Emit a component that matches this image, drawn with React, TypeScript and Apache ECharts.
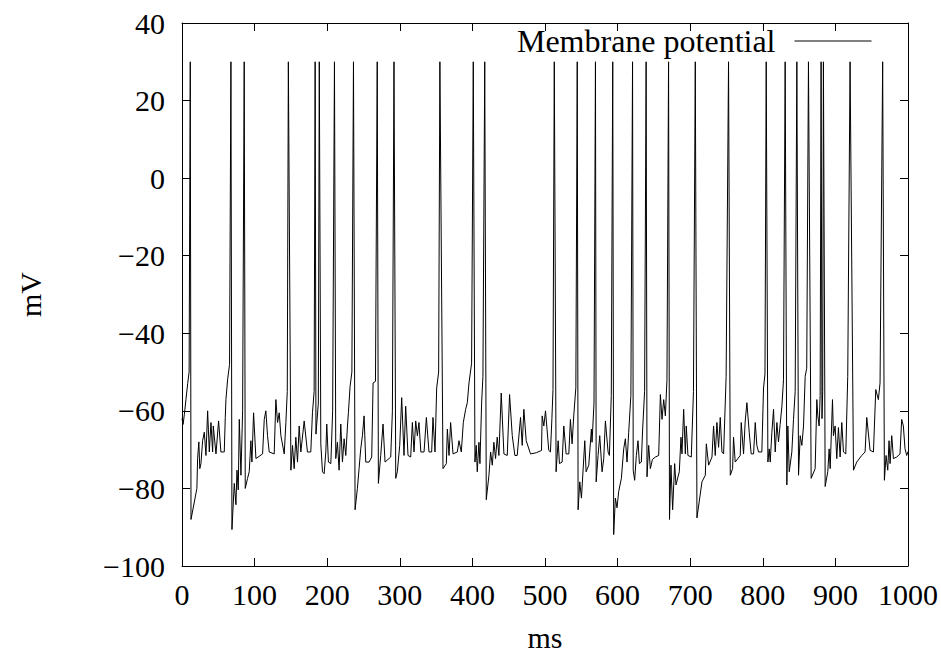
import React, { useEffect, useRef } from "react";
import * as echarts from "echarts";

// Membrane potential trace [time (ms), potential (mV)], in 200 ms pieces
const trace0to200: [number, number][] = [
  [0, -62], [1.5, -63.5], [3.2, -61], [5.5, -57], [7.8, -53], [9.8, -50], [11.4, 30], [12.4, -88],
  [20.5, -80], [21.5, -72.3], [23.2, -68], [24.5, -74.9], [26.1, -73.6], [28.4, -67.7], [30.7, -65.5],
  [33, -71.5], [35.3, -60], [37.6, -70.6], [39.9, -63], [42.2, -70.6], [43.1, -63.9], [46.8, -71.1],
  [50.4, -62.6], [53.6, -70.6], [58.2, -70.6], [59.6, -61.7], [60.5, -57.1], [62.8, -52], [65.5, -48],
  [67.4, 30], [68.8, -90.6], [72, -78.7], [74.3, -84.2], [75.7, -75.3], [77.5, -80.4], [78.9, -62.2],
  [81.2, -76.6], [83.5, -60], [85.7, 30], [87.1, -80], [90.3, -77.4], [92.6, -75.7], [94.9, -67.7],
  [96.3, -73.2], [98.6, -60.5], [101.8, -72.3], [111, -71.1], [113.3, -62.2], [115.5, -60], [117.8, -66.4],
  [120.1, -70.6], [127, -71.1], [129.3, -57.1], [131.6, -63], [133.9, -60.5], [136.2, -66.4], [140.8, -71.1],
  [143.1, -63], [145, -55], [146.5, 30], [150, -75.3], [152.2, -68.9], [154.5, -74.9], [156.8, -66.8],
  [159.1, -73.2], [161.4, -63.9], [163.7, -70.6], [168.3, -62.6], [172.8, -70.6], [177.4, -70.6],
  [179.7, -60.5], [182, -55], [183.4, 30], [184.5, -66], [187.8, -58], [189.1, 30], [191.2, -68.5],
  [193.5, -75.7], [195.8, -76.2], [198.1, -70.6], [199.4, -63.4],
];

const trace200to400: [number, number][] = [
  [201.7, -73.2], [205, -73.6], [207.5, -60], [210, 30], [211.8, -72.3], [214.1, -68.1], [216.4, -75.3],
  [218.7, -63.4], [221, -73.2], [223.3, -67.2], [225.6, -71.5], [227.9, -63.9], [229.2, -60.5],
  [231.5, -53.7], [234, -50], [236.2, 30], [238.4, -85.5], [241.6, -80], [243.9, -74.9], [246.2, -69.8],
  [248.5, -66.4], [250.8, -61.3], [253.1, -73.2], [257.7, -73.2], [261.3, -71.9], [263.2, -52.8],
  [266.5, -52.4], [268.9, 30], [270.5, -78.7], [273.7, -71.5], [276.9, -63.4], [279.7, -73.2],
  [287.5, -71.9], [289.8, -60], [292, 30], [294.4, -77.4], [296.6, -75.7], [299.9, -68.9], [302.6, -56.6],
  [305.8, -71.5], [308.1, -58.8], [311.3, -71.5], [315, -71.9], [317.3, -63], [319.6, -70.6],
  [321.9, -62.6], [324.2, -66.4], [326.4, -63], [329, -70.6], [333.4, -70.6], [336.6, -61.7],
  [340.2, -70.6], [343.9, -70.6], [345.7, -61.7], [348.5, -70.6], [350.8, -54.1], [353.5, -50],
  [355.2, 30], [359.5, -74.9], [364.1, -73.6], [365.5, -64.7], [367.8, -71.5], [370, -63], [373.3, -71.1],
  [379.2, -70.6], [381.5, -67.7], [384.7, -70.6], [387.5, -63], [390.7, -59.6], [393, -57.9],
  [395.3, -52.8], [398.9, -47.7],
];

const trace400to600: [number, number][] = [
  [401.2, 30], [403.5, -73.2], [405.3, -68.9], [406.7, -75.7], [409, -68.1], [410.4, -73.6], [412.7, -58],
  [414.5, -51.1], [417, 30], [419.1, -82.9], [422.8, -76.6], [425.1, -70.6], [427.4, -74], [429.6, -68.1],
  [431.9, -72.3], [434.2, -66.8], [436.5, -71.5], [439.7, -55.4], [443.4, -71.1], [448, -71.5],
  [451.2, -55.8], [454.9, -66.4], [458.5, -71.5], [461.7, -71.5], [466.3, -61.7], [468.6, -68.9],
  [470.9, -59.6], [474.1, -67.7], [480.1, -71.1], [488, -70.8], [495.2, -70.2], [496.1, -61.3],
  [498.4, -63.9], [500.7, -60], [505.2, -70.2], [507.5, -70.6], [509.5, -62], [511, -54.5], [512.8, 30],
  [515.3, -75.7], [518.1, -67.7], [519.9, -73.6], [523.6, -73.2], [525.9, -63.9], [529.1, -71.1],
  [532.8, -71.1], [535, -62.2], [537.3, -68.5], [539.6, -61.3], [542.5, -54], [544.4, 30], [545.6, -85.5],
  [547.9, -78.3], [550.2, -82.5], [554.8, -67.7], [556.6, -75.7], [560.3, -74], [563.9, -64.7],
  [564.8, -68.1], [567.5, -58], [569.5, 30], [570.5, -78.3], [573.1, -71.5], [575.4, -66.4],
  [578.6, -75.7], [580.9, -72.3], [583.2, -62.6], [586.9, -70.6], [588.7, -71.5], [591.3, -56],
  [593.3, 30], [594.6, -91.9], [596.9, -82.5], [599.2, -85],
];

const trace600to800: [number, number][] = [
  [601.5, -80.8], [605.2, -77.4], [608.4, -69.8], [610.7, -67.2], [613, -73.2], [615.3, -65.5],
  [618.3, -56], [620.6, 30], [621.5, -75.3], [623.5, -77.9], [625.8, -71.5], [628.1, -67.7], [630, -73.6],
  [632.7, -73.2], [634.5, -64.7], [637.2, -55], [639.3, 30], [640.5, -77], [642.8, -68.9], [645.1, -74.9],
  [648, -72.5], [652, -71.9], [656.6, -71.5], [658.9, -55.8], [661.2, -62.2], [663.5, -57.1],
  [665.8, -61.3], [668, -52], [670.2, 30], [671.5, -88], [673.5, -74], [675.8, -85.5], [678.6, -73.6],
  [680.4, -79.1], [685, -75.7], [687.3, -66.8], [688.7, -71.1], [691, -59.6], [693.3, -71.1],
  [694.6, -63.9], [696.9, -71.5], [701.5, -71.9], [704.5, -55], [707, 30], [709.3, -87.6], [716.2, -78.3],
  [720.8, -76.6], [722.2, -68.5], [725.4, -74], [730, -71.9], [732.2, -63.9], [734.5, -71.5], [736.8, -63],
  [739.1, -69.4], [741.4, -61.7], [743.7, -70.6], [746, -71.1], [749.5, -51.1], [752.8, 30],
  [755.2, -76.6], [758.4, -74.9], [759.7, -66.8], [762, -73.2], [768.9, -71.5], [770.3, -63],
  [773.5, -71.1], [775.8, -62.6], [778.1, -57.9], [781.3, -65.5], [784, -71.1], [787.3, -71.1],
  [789.6, -63], [791.8, -68.9], [794.1, -70.6], [798.7, -70.6], [801, -54.1], [803, -50.5], [804.7, 30],
  [807, -73.2], [808.8, -69.8], [810.2, -73.2], [812.5, -65.5], [814.8, -59.6],
];

const trace800to1000: [number, number][] = [
  [817.1, -70.6], [819.4, -63], [821.6, -68], [823.9, -63.5], [826.3, -58.8], [828.5, -52], [830.8, 30],
  [833.1, -79.1], [834.5, -63.9], [836.4, -75.7], [840, -70.6], [842.3, -62.2], [844.6, -55], [846.9, 30],
  [849.2, -76.6], [851.5, -66.4], [853.8, -68.9], [856.1, -63.9], [858.4, -51.1], [860.5, -49],
  [862.9, 30], [866.6, -77.4], [872.1, -74.9], [874.4, -57.1], [875.8, -61.3], [877.6, -63.9], [879, -56],
  [880.3, 30], [881.5, -62], [882.5, -55], [883.5, 30], [885.9, -79.5], [889.5, -75.7], [891.4, -69.8],
  [892.8, -74.9], [896, -57.1], [897.3, -66.4], [899.6, -63.9], [901.9, -72.3], [904.2, -64.3],
  [906.5, -71.9], [908.8, -63], [911.1, -70.6], [914.3, -71.1], [917, -51.1], [920.2, 30], [924.9, -75.3],
  [929.4, -73.2], [936.3, -71.5], [940.9, -70.6], [943.2, -61.7], [947.8, -70.2], [952.4, -70.6],
  [955.6, -54.5], [959.2, -57.1], [961.5, -52.8], [965.1, 30], [967.5, -77.9], [969.8, -71.5],
  [972.1, -75.3], [973.9, -67.7], [975.3, -73.6], [977.6, -66.4], [979.9, -72.3], [984.5, -71.9],
  [989, -71.1], [991.3, -62.2], [993.6, -63.9], [995.9, -69.8], [998.2, -71.5], [1000, -70.5],
];

const seriesName = "Membrane potential";
const xAxisTitle = "ms";
const yAxisTitle = "mV";
const xRange = { min: 0, max: 1000, step: 100 };
const yRange = { min: -100, max: 40, step: 20 };

const FONT = "'Liberation Serif', 'DejaVu Serif', serif";

const fmt = (v: number) => (v < 0 ? "\u2212" + Math.abs(v) : String(v));

export default function App() {
  const ref = useRef<HTMLDivElement>(null);

  useEffect(() => {
    if (!ref.current) return;
    const chart = echarts.init(ref.current, undefined, { renderer: "svg" });
    const data = [
      ...trace0to200,
      ...trace200to400,
      ...trace400to600,
      ...trace600to800,
      ...trace800to1000,
    ];
    const axisLine = { show: true, onZero: false, lineStyle: { color: "#000", width: 1 } };
    const tick = { show: true, inside: true, length: 8, lineStyle: { color: "#000", width: 1 } };
    chart.setOption({
      animation: false,
      backgroundColor: "#fff",
      grid: { left: 182, right: 33, top: 23, bottom: 85, containLabel: false },
      legend: {
        show: true,
        data: [seriesName],
        right: 69,
        top: 25,
        padding: 0,
        align: "right",
        itemWidth: 77,
        itemHeight: 14,
        itemStyle: { color: "rgba(0,0,0,0)", borderWidth: 0, opacity: 0 },
        lineStyle: { color: "#000", width: 1, opacity: 1 },
        textStyle: {
          fontFamily: FONT,
          fontSize: 32,
          color: "#000",
          padding: [0, 14, 8, 0],
        },
      },
      xAxis: [
        {
          type: "value",
          position: "bottom",
          min: xRange.min,
          max: xRange.max,
          interval: xRange.step,
          name: xAxisTitle,
          nameLocation: "middle",
          nameGap: 56,
          nameTextStyle: { fontFamily: FONT, fontSize: 30, color: "#000" },
          axisLine,
          axisTick: tick,
          splitLine: { show: false },
          axisLabel: { fontFamily: FONT, fontSize: 30, color: "#000", margin: 13, formatter: fmt },
        },
        {
          type: "value",
          position: "top",
          min: xRange.min,
          max: xRange.max,
          interval: xRange.step,
          axisLine,
          axisTick: tick,
          splitLine: { show: false },
          axisLabel: { show: false },
        },
      ],
      yAxis: [
        {
          type: "value",
          position: "left",
          min: yRange.min,
          max: yRange.max,
          interval: yRange.step,
          name: yAxisTitle,
          nameLocation: "middle",
          nameGap: 137,
          nameRotate: 90,
          nameTextStyle: { fontFamily: FONT, fontSize: 30, color: "#000" },
          axisLine,
          axisTick: tick,
          splitLine: { show: false },
          axisLabel: { fontFamily: FONT, fontSize: 30, color: "#000", margin: 17, formatter: fmt },
        },
        {
          type: "value",
          position: "right",
          min: yRange.min,
          max: yRange.max,
          interval: yRange.step,
          axisLine,
          axisTick: tick,
          splitLine: { show: false },
          axisLabel: { show: false },
        },
      ],
      series: [
        {
          name: seriesName,
          type: "line",
          xAxisIndex: 0,
          yAxisIndex: 0,
          data,
          symbol: "none",
          showSymbol: false,
          lineStyle: { color: "#000", width: 1 },
          itemStyle: { color: "#000" },
          z: 1,
        },
      ],
    });
    return () => chart.dispose();
  }, []);

  return (
    <div
      ref={ref}
      style={{ position: "absolute", left: 0, top: 0, width: 941, height: 657, background: "#fff" }}
    />
  );
}
